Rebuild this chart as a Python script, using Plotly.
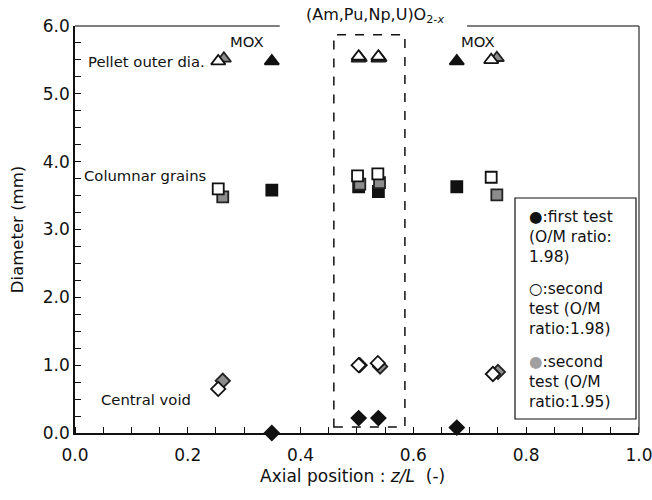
import plotly.graph_objects as go

# ---- data (axial position z/L, diameter mm) ----
first_outer_x = [0.349, 0.503, 0.538, 0.677]
first_outer_y = [5.48, 5.52, 5.52, 5.48]
first_col_x = [0.349, 0.503, 0.538, 0.677]
first_col_y = [3.58, 3.63, 3.56, 3.63]
first_void_x = [0.349, 0.503, 0.538, 0.677]
first_void_y = [0.0, 0.22, 0.22, 0.08]

sec198_outer_x = [0.254, 0.503, 0.538, 0.738]
sec198_outer_y = [5.48, 5.55, 5.55, 5.50]
sec198_col_x = [0.254, 0.501, 0.537, 0.738]
sec198_col_y = [3.60, 3.79, 3.82, 3.77]
sec198_void_x = [0.254, 0.503, 0.537, 0.741]
sec198_void_y = [0.65, 1.00, 1.03, 0.87]

sec195_outer_x = [0.264, 0.505, 0.540, 0.748]
sec195_outer_y = [5.52, 5.53, 5.53, 5.53]
sec195_col_x = [0.262, 0.505, 0.540, 0.748]
sec195_col_y = [3.48, 3.67, 3.69, 3.51]
sec195_void_x = [0.262, 0.505, 0.541, 0.750]
sec195_void_y = [0.77, 1.00, 0.98, 0.90]

x_ticks = [0.0, 0.2, 0.4, 0.6, 0.8, 1.0]
y_ticks = [0.0, 1.0, 2.0, 3.0, 4.0, 5.0, 6.0]

FONT = "DejaVu Sans"
fig = go.Figure()

styles = [
    ("first", "#111111", "#111111"),
    ("sec195", "#8c8c8c", "#222222"),
    ("sec198", "#ffffff", "#111111"),
]
data = {
    "first": [(first_outer_x, first_outer_y), (first_col_x, first_col_y), (first_void_x, first_void_y)],
    "sec198": [(sec198_outer_x, sec198_outer_y), (sec198_col_x, sec198_col_y), (sec198_void_x, sec198_void_y)],
    "sec195": [(sec195_outer_x, sec195_outer_y), (sec195_col_x, sec195_col_y), (sec195_void_x, sec195_void_y)],
}
symbols = ["triangle-up", "square", "diamond"]
sizes = [12.5, 11, 11]
for name, fill, edge in styles:
    for (xs, ys), sym, sz in zip(data[name], symbols, sizes):
        fig.add_trace(go.Scatter(
            x=xs, y=ys, mode="markers", showlegend=False, cliponaxis=False,
            marker=dict(symbol=sym, size=sz, color=fill,
                        line=dict(color=edge, width=1.8)),
        ))

# empty trace so the overlaid tick-only x axis is drawn
fig.add_trace(go.Scatter(x=[None], y=[None], xaxis="x2", yaxis="y",
                         mode="markers", showlegend=False, hoverinfo="skip"))

XR = [0, 1.0001]
fig.update_layout(
    width=652, height=500,
    margin=dict(l=75, r=13, t=26, b=67),
    plot_bgcolor="white", paper_bgcolor="white",
    font=dict(family=FONT, size=17, color="#111111"),
    showlegend=False,
    xaxis=dict(range=XR, tickvals=x_ticks, ticktext=[f"{v:.1f}" for v in x_ticks],
               ticklabeloverflow="allow", automargin=False,
               showgrid=False, zeroline=False, showline=True, linecolor="#111111", linewidth=1.5,
               ticks="outside", ticklen=6, tickcolor="rgba(0,0,0,0)",
               minor=dict(dtick=0.05, ticks="inside", ticklen=6, tickcolor="#111111", showgrid=False)),
    xaxis2=dict(range=XR, overlaying="x", side="bottom", tickvals=x_ticks,
                showticklabels=False, automargin=False,
                showgrid=False, zeroline=False, showline=False,
                ticks="inside", ticklen=6, tickcolor="#111111"),
    yaxis=dict(range=[0, 6], tickvals=y_ticks, ticktext=[f"{v:.1f}" for v in y_ticks],
               ticklabeloverflow="allow", automargin=False,
               showgrid=False, zeroline=False, showline=True, linecolor="#111111", linewidth=1.5,
               ticks="inside", ticklen=6, tickcolor="#111111",
               minor=dict(dtick=0.25, ticks="inside", ticklen=6, tickcolor="#111111", showgrid=False),
               title=dict(text="Diameter (mm)", font=dict(size=16.5))),
)

# x-axis title
fig.add_annotation(xref="paper", yref="paper", x=(352 - 75) / 564, y=(433 - 476) / 407,
                   text="Axial position : <i>z/L</i>  (-)", showarrow=False,
                   font=dict(size=17), xanchor="center", yanchor="middle")

# frame: right side and broken top line
fig.add_shape(type="line", xref="paper", yref="paper", x0=1, x1=1, y0=0, y1=1,
              line=dict(color="#555555", width=1.5))
fig.add_shape(type="line", xref="paper", yref="paper", x0=0, x1=0.363, y0=1, y1=1,
              line=dict(color="#555555", width=1.5))
fig.add_shape(type="line", xref="paper", yref="paper", x0=0.695, x1=1, y0=1, y1=1,
              line=dict(color="#555555", width=1.5))

# dashed box around (Am,Pu,Np,U)O2-x
fig.add_shape(type="rect", xref="x", yref="y", x0=0.459, x1=0.585, y0=0.09, y1=5.87,
              line=dict(color="#111111", width=1.5, dash="dash"), layer="below")

fig.add_annotation(xref="paper", yref="paper", x=0.532, y=1.025, showarrow=False,
                   text="(Am,Pu,Np,U)O<sub>2-<i>x</i></sub>", font=dict(size=16),
                   xanchor="center", yanchor="middle")

labels = [
    ("MOX", 0.305, 5.77), ("MOX", 0.715, 5.77),
    ("Pellet outer dia.", 0.126, 5.47), ("Columnar grains", 0.124, 3.80),
    ("Central void", 0.126, 0.50),
]
for t, x, y in labels:
    fig.add_annotation(x=x, y=y, xref="x", yref="y", text=t, showarrow=False,
                       font=dict(size=14.8), xanchor="center", yanchor="middle")

# legend box
fig.add_shape(type="rect", xref="paper", yref="paper",
              x0=(515 - 75) / 564, x1=(636 - 75) / 564,
              y0=(433 - 419) / 407, y1=(433 - 198) / 407,
              line=dict(color="#111111", width=1.2), fillcolor="white")
leg = [
    ("●:first test<br>(O/M ratio:<br>1.98)", 206),
    ("○:second<br>test (O/M<br>ratio:1.98)", 278),
    ("<span style='color:#a0a0a0'>●</span>:second<br>test (O/M<br>ratio:1.95)", 351),
]
for t, ytop in leg:
    fig.add_annotation(xref="paper", yref="paper", x=(527 - 75) / 564, y=(433 - ytop) / 407,
                       text=t, showarrow=False, align="left", xanchor="left", yanchor="top",
                       font=dict(size=15.5))

fig.write_html("out.html")
